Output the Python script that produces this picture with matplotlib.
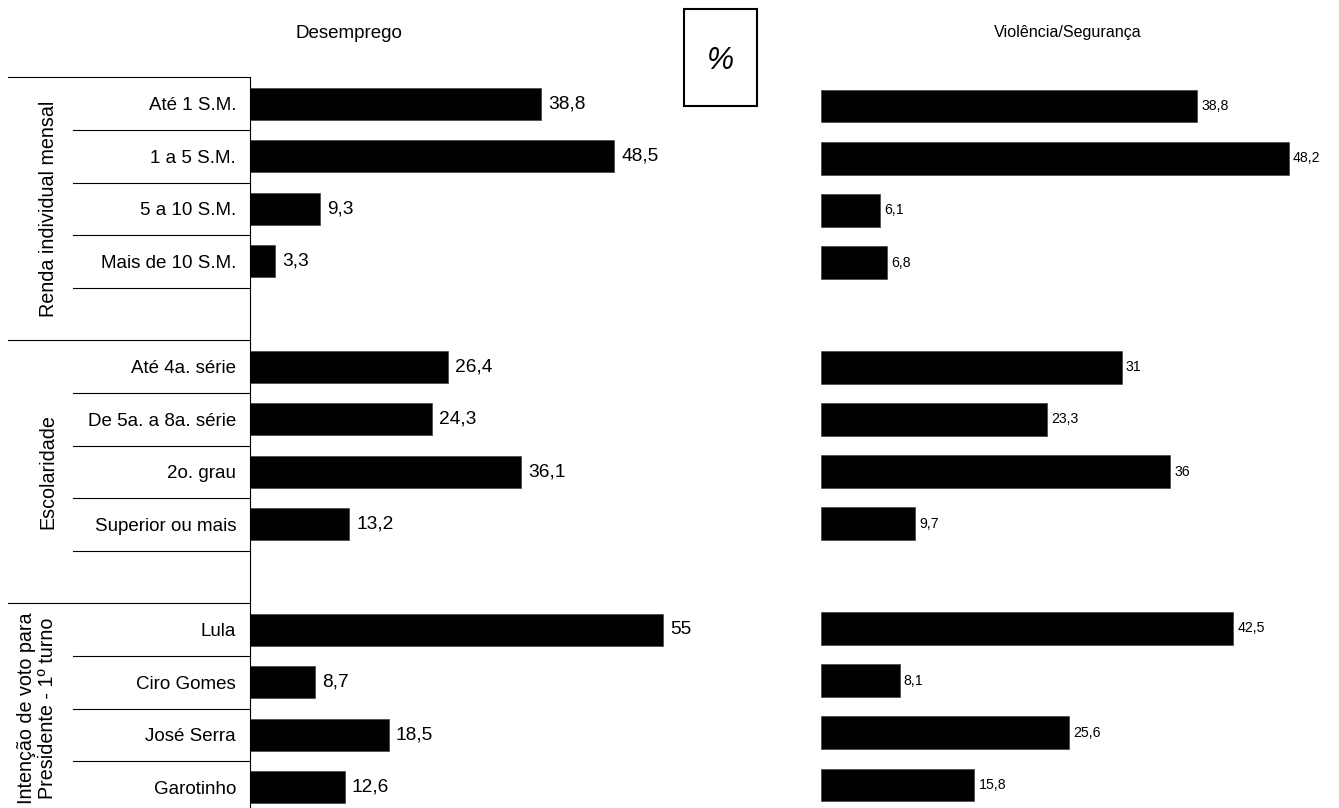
import numpy as np
import matplotlib
matplotlib.use("Agg")
import matplotlib.pyplot as plt
from matplotlib.patches import Rectangle
from matplotlib.lines import Line2D

plt.rcParams['font.family'] = ['Liberation Sans', 'DejaVu Sans']

# ---- data ----
categories = ["Até 1 S.M.", "1 a 5 S.M.", "5 a 10 S.M.", "Mais de 10 S.M.", "",
              "Até 4a. série", "De 5a. a 8a. série", "2o. grau", "Superior ou mais", "",
              "Lula", "Ciro Gomes", "José Serra", "Garotinho"]
desemprego = [38.8, 48.5, 9.3, 3.3, None,
              26.4, 24.3, 36.1, 13.2, None,
              55, 8.7, 18.5, 12.6]
violencia = [38.8, 48.2, 6.1, 6.8, None,
             31, 23.3, 36, 9.7, None,
             42.5, 8.1, 25.6, 15.8]
groups = ["Renda individual mensal", "Escolaridade",
          "Intenção de voto para\nPresidente - 1º turno"]
group_rows = [(0, 4), (5, 9), (10, 13)]
title_left = "Desemprego"
title_right = "Violência/Segurança"

W, H = 1339, 808
fig = plt.figure(figsize=(W / 100, H / 100), dpi=100)

def ax_rect(x0, x1, ytop, ybot):
    return [x0 / W, 1 - ybot / H, (x1 - x0) / W, (ybot - ytop) / H]

n = len(categories)
ypos = np.arange(n)

# ---- left panel ----
axL = fig.add_axes(ax_rect(250, 250 + 7.51 * 60, 77.3, 77.3 + 52.6 * 14))
axL.set_xlim(0, 60)
axL.set_ylim(n - 0.5, -0.5)
for i, v in enumerate(desemprego):
    if v is None:
        continue
    axL.barh(i, v, height=0.61, color='black', edgecolor='#444444', linewidth=0.5)
    axL.annotate(f"{v:g}".replace('.', ','), (v, i), xytext=(5, 0),
                 textcoords='offset points', va='center', ha='left', fontsize=13.8)
for s in ['top', 'right', 'bottom']:
    axL.spines[s].set_visible(False)
axL.spines['left'].set_linewidth(0.8)
axL.set_xticks([])
axL.set_yticks(ypos)
axL.set_yticklabels(categories, fontsize=13.5)
axL.tick_params(axis='y', length=0, pad=10)

def px_to_axfrac(px):
    return (px - 250) / (7.51 * 60)

trans = axL.get_yaxis_transform()
group_bounds = [-0.5, 4.5, 9.5]
for b in np.arange(-0.5, n - 0.5, 1.0):
    x0 = px_to_axfrac(8) if b in group_bounds else px_to_axfrac(73)
    axL.add_line(Line2D([x0, 0], [b, b], transform=trans, color='black',
                        linewidth=0.8, clip_on=False))

for gname, (r0, r1) in zip(groups, group_rows):
    yc = (r0 - 0.5 + r1 + 0.5) / 2
    xc = 48 if '\n' not in gname else 37
    axL.text(px_to_axfrac(xc), yc, gname, transform=trans, rotation=90,
             ha='center', va='center', fontsize=14.2, linespacing=1.15)

# ---- right panel ----
axR = fig.add_axes(ax_rect(821, 821 + 9.70 * 50, 79.9, 79.9 + 52.23 * 14))
axR.set_xlim(0, 50)
axR.set_ylim(n - 0.5, -0.5)
for i, v in enumerate(violencia):
    if v is None:
        continue
    axR.barh(i, v, height=0.63, color='black', edgecolor='#444444', linewidth=0.5)
    axR.annotate(f"{v:g}".replace('.', ','), (v, i), xytext=(3, 0),
                 textcoords='offset points', va='center', ha='left', fontsize=10.2)
for s in axR.spines.values():
    s.set_visible(False)
axR.set_xticks([])
axR.set_yticks([])

# ---- titles ----
fig.text(349 / W, 1 - 33 / H, title_left, ha='center', va='center', fontsize=13.5)
fig.text(1068 / W, 1 - 33 / H, title_right, ha='center', va='center', fontsize=11.6)

# ---- % box ----
fig.patches.append(Rectangle((684 / W, 1 - 106 / H), 73 / W, 97 / H,
                             transform=fig.transFigure, fill=False,
                             edgecolor='black', linewidth=1.5))
fig.text(720.5 / W, 1 - 61 / H, "%", ha='center', va='center', fontsize=22,
         style='italic')

fig.savefig("out.png", dpi=100, facecolor='white')
